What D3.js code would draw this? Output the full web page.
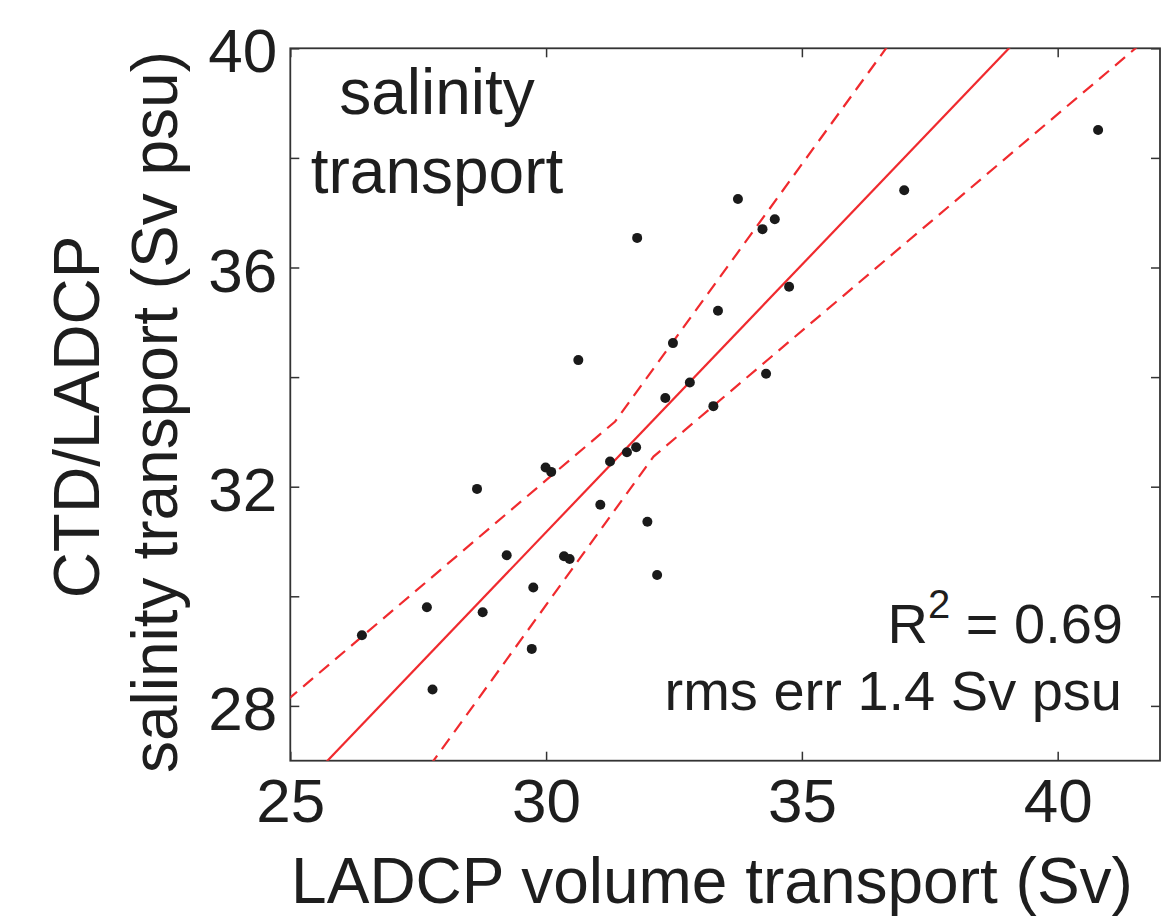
<!DOCTYPE html>
<html>
<head>
    <meta charset="utf-8">
    <style>
        body {
            margin: 0;
            background: #fff;
        }

        svg {
            font-family: "Liberation Sans", Arial, Helvetica, sans-serif;
        }

        .axis .domain {
            display: none;
        }

        .axis .tick line {
            stroke: #333;
            stroke-width: 1.5;
        }

        .axis .tick text {
            font-size: 62px;
            fill: #1e1e1e;
        }

        .label {
            font-size: 64px;
            fill: #1e1e1e;
        }

        .note {
            font-size: 56px;
            fill: #1e1e1e;
        }
    </style>
</head>

<body>
    <svg width="1164" height="919"></svg>

    <script src="https://d3js.org/d3.v7.min.js"></script>
    <script>
        // LADCP volume transport (Sv) vs CTD/LADCP salinity transport (Sv psu)
        let ladcpX = [26.40, 27.67, 27.78, 28.65, 28.76, 29.23, 29.75, 29.72,
            29.99, 30.10, 30.35, 30.46, 31.06, 31.25, 31.58, 31.76,
            31.98, 32.17, 32.33, 31.78, 30.63, 32.48, 32.81, 33.27,
            33.36, 33.75, 34.23, 34.30, 34.47, 34.75, 37.00, 40.79]
        let ctdY = [29.29, 29.80, 28.30, 31.96, 29.71, 30.75, 30.16, 29.04,
            32.35, 32.27, 30.73, 30.68, 31.67, 32.46, 32.63, 32.72,
            31.36, 30.39, 33.62, 36.54, 34.31, 34.62, 33.90, 33.47,
            35.21, 37.25, 36.70, 34.06, 36.88, 35.65, 37.41, 38.51]

        // regression line and dashed bounds
        let fitSlope = 0.976
        let fitIntercept = 1.89
        let fitX = [24, 43]
        let upperX = [24, 31.35, 37.5]
        let upperY = [27.36, 33.19, 41.1]
        let lowerX = [27.0, 32.10, 43]
        let lowerY = [25.97, 32.55, 41.17]

        let xTicks = [25, 30, 35, 40]
        let yTicks = [28, 30, 32, 34, 36, 38, 40]

        let svg = d3.select("svg")
        let margin = { top: 48.3, right: 4, bottom: 158.3, left: 290.3 }
        let width = 1164
        let height = 919

        let x = d3.scaleLinear()
            .domain([25, 42])
            .range([margin.left, width - margin.right])

        let y = d3.scaleLinear()
            .domain([27, 40])
            .range([height - margin.bottom, margin.top])

        svg.append("clipPath")
            .attr("id", "plot")
            .append("rect")
            .attr("x", x(25))
            .attr("y", y(40))
            .attr("width", x(42) - x(25))
            .attr("height", y(27) - y(40))

        // axes, ticks pointing inward
        let tickLen = 9

        svg.append("g")
            .attr("class", "x axis")
            .attr("transform", `translate(0,${y(27)})`)
            .call(d3.axisBottom(x).tickValues(xTicks).tickSize(-tickLen).tickSizeOuter(0).tickPadding(17))

        svg.append("g")
            .attr("class", "x axis")
            .attr("transform", `translate(0,${y(40)})`)
            .call(d3.axisTop(x).tickValues(xTicks).tickSize(-tickLen).tickSizeOuter(0).tickFormat(""))

        svg.append("g")
            .attr("class", "y axis")
            .attr("transform", `translate(${x(25)},0)`)
            .call(d3.axisLeft(y).tickValues(yTicks).tickSize(-tickLen).tickSizeOuter(0).tickPadding(13)
                .tickFormat(d => d % 4 === 0 ? d : ""))
            .selectAll("text")
            .attr("dy", "0.38em")

        svg.append("g")
            .attr("class", "y axis")
            .attr("transform", `translate(${x(42)},0)`)
            .call(d3.axisRight(y).tickValues(yTicks).tickSize(-tickLen).tickSizeOuter(0).tickFormat(""))

        // frame
        svg.append("rect")
            .attr("x", x(25))
            .attr("y", y(40))
            .attr("width", x(42) - x(25))
            .attr("height", y(27) - y(40))
            .attr("fill", "none")
            .attr("stroke", "#333")
            .attr("stroke-width", 1.8)

        let lines = svg.append("g").attr("clip-path", "url(#plot)")

        let lineGen = d3.line()
            .x(d => x(d[0]))
            .y(d => y(d[1]))

        lines.append("path")
            .datum(fitX.map(v => [v, fitIntercept + fitSlope * v]))
            .attr("d", lineGen)
            .attr("fill", "none")
            .attr("stroke", "#f02a2e")
            .attr("stroke-width", 2.2)

        lines.selectAll(".band")
            .data([d3.zip(upperX, upperY), d3.zip(lowerX, lowerY)])
            .join("path")
            .attr("class", "band")
            .attr("d", lineGen)
            .attr("fill", "none")
            .attr("stroke", "#f02a2e")
            .attr("stroke-width", 2.2)
            .attr("stroke-dasharray", "13,8")

        svg.append("g")
            .selectAll("circle")
            .data(d3.zip(ladcpX, ctdY))
            .join("circle")
            .attr("cx", d => x(d[0]))
            .attr("cy", d => y(d[1]))
            .attr("r", 5)
            .attr("fill", "#1a1a1a")

        // labels
        svg.append("text")
            .attr("class", "label")
            .attr("x", 712)
            .attr("y", 903)
            .attr("text-anchor", "middle")
            .text("LADCP volume transport (Sv)")

        svg.append("text")
            .attr("class", "label")
            .attr("text-anchor", "middle")
            .attr("transform", "translate(99,417) rotate(-90)")
            .text("CTD/LADCP")

        svg.append("text")
            .attr("class", "label")
            .attr("text-anchor", "middle")
            .attr("transform", "translate(177,412) rotate(-90)")
            .text("salinity transport (Sv psu)")

        svg.append("text")
            .attr("class", "label")
            .attr("x", 437)
            .attr("y", 114)
            .attr("text-anchor", "middle")
            .text("salinity")

        svg.append("text")
            .attr("class", "label")
            .attr("x", 437)
            .attr("y", 193)
            .attr("text-anchor", "middle")
            .text("transport")

        let r2 = svg.append("text")
            .attr("class", "note")
            .attr("x", 1123)
            .attr("y", 643)
            .attr("text-anchor", "end")
        r2.append("tspan").text("R")
        r2.append("tspan").attr("dy", -25).attr("font-size", 40).text("2")
        r2.append("tspan").attr("dy", 25).text(" = 0.69")

        svg.append("text")
            .attr("class", "note")
            .attr("x", 1122)
            .attr("y", 710)
            .attr("text-anchor", "end")
            .text("rms err 1.4 Sv psu")
    </script>
</body>
</html>
